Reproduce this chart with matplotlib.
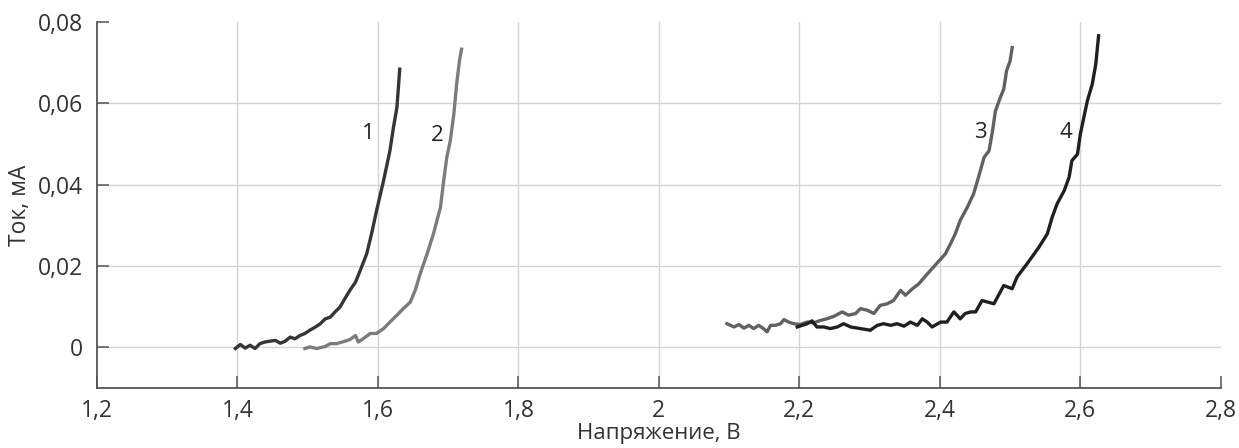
import matplotlib

matplotlib.use("Agg")
import matplotlib.pyplot as plt
from matplotlib.ticker import FuncFormatter

plt.rcParams["font.family"] = ["Open Sans", "DejaVu Sans"]

# кривая 1
U1 = [1.397, 1.404, 1.411, 1.418, 1.425, 1.432, 1.439, 1.446, 1.454, 1.461,
      1.468, 1.475, 1.482, 1.489, 1.496, 1.503, 1.511, 1.518, 1.525, 1.532,
      1.539, 1.546, 1.553, 1.560, 1.568, 1.575, 1.584, 1.591, 1.598, 1.608,
      1.617, 1.622, 1.627, 1.631]
I1 = [-0.0003, 0.0007, -0.0002, 0.0005, -0.0003, 0.0009, 0.0013, 0.0015, 0.0017, 0.0010,
      0.0015, 0.0025, 0.0021, 0.0029, 0.0034, 0.0042, 0.0050, 0.0058, 0.0070, 0.0074,
      0.0087, 0.0099, 0.0120, 0.0140, 0.0160, 0.0190, 0.0230, 0.0280, 0.0336, 0.0410,
      0.0483, 0.0540, 0.0590, 0.0684]

# кривая 2
U2 = [1.496, 1.503, 1.513, 1.525, 1.532, 1.541, 1.553, 1.560, 1.568, 1.572,
      1.579, 1.589, 1.598, 1.608, 1.617, 1.627, 1.636, 1.646, 1.653, 1.660,
      1.670, 1.679, 1.689, 1.693, 1.698, 1.703, 1.708, 1.712, 1.716, 1.719]
I2 = [-0.0003, 0.0001, -0.0003, 0.0002, 0.0009, 0.0009, 0.0015, 0.0019, 0.0029, 0.0013,
      0.0021, 0.0034, 0.0034, 0.0046, 0.0062, 0.0079, 0.0095, 0.0111, 0.0140, 0.0180,
      0.0230, 0.0279, 0.0344, 0.0402, 0.0467, 0.0508, 0.0573, 0.0647, 0.0704, 0.0733]

# кривая 3
U3 = [2.097, 2.107, 2.114, 2.121, 2.128, 2.135, 2.142, 2.149, 2.154, 2.159,
      2.166, 2.173, 2.178, 2.185, 2.192, 2.201, 2.211, 2.220, 2.230, 2.239,
      2.249, 2.261, 2.270, 2.280, 2.287, 2.297, 2.306, 2.315, 2.325, 2.334,
      2.344, 2.351, 2.361, 2.370, 2.382, 2.397, 2.408, 2.415, 2.422, 2.429,
      2.439, 2.448, 2.455, 2.463, 2.470, 2.475, 2.479, 2.486, 2.491, 2.495,
      2.500, 2.503]
I3 = [0.0058, 0.0050, 0.0056, 0.0047, 0.0054, 0.0046, 0.0054, 0.0046, 0.0038, 0.0054,
      0.0054, 0.0058, 0.0068, 0.0062, 0.0058, 0.0056, 0.0062, 0.0060, 0.0066, 0.0070,
      0.0076, 0.0087, 0.0079, 0.0083, 0.0095, 0.0091, 0.0083, 0.0103, 0.0107, 0.0115,
      0.0140, 0.0128, 0.0144, 0.0156, 0.0180, 0.0209, 0.0230, 0.0254, 0.0279, 0.0312,
      0.0344, 0.0377, 0.0418, 0.0467, 0.0483, 0.0532, 0.0580, 0.0614, 0.0635, 0.0680,
      0.0704, 0.0737]

# кривая 4
U4 = [2.197, 2.211, 2.218, 2.225, 2.235, 2.244, 2.254, 2.263, 2.273, 2.287,
      2.301, 2.311, 2.320, 2.330, 2.339, 2.349, 2.358, 2.368, 2.375, 2.382,
      2.389, 2.401, 2.410, 2.420, 2.429, 2.436, 2.444, 2.451, 2.460, 2.477,
      2.491, 2.503, 2.510, 2.524, 2.541, 2.553, 2.560, 2.567, 2.577, 2.584,
      2.588, 2.596, 2.600, 2.605, 2.610, 2.617, 2.622, 2.626]
I4 = [0.0050, 0.0058, 0.0065, 0.0050, 0.0050, 0.0046, 0.0050, 0.0058, 0.0050, 0.0046,
      0.0042, 0.0054, 0.0058, 0.0054, 0.0058, 0.0052, 0.0062, 0.0054, 0.0070, 0.0062,
      0.0050, 0.0062, 0.0062, 0.0087, 0.0070, 0.0083, 0.0087, 0.0087, 0.0115, 0.0107,
      0.0152, 0.0144, 0.0173, 0.0205, 0.0246, 0.0279, 0.0320, 0.0353, 0.0385, 0.0418,
      0.0459, 0.0475, 0.0524, 0.0565, 0.0606, 0.0647, 0.0696, 0.0766]

CURVES = [(U1, I1, "#353535"), (U2, I2, "#7c7c7c"),
          (U3, I3, "#616161"), (U4, I4, "#202020")]

LABELS = ["1", "2", "3", "4"]
LABEL_U = [1.586, 1.685, 2.458, 2.580]
LABEL_I = [0.0525, 0.052, 0.0528, 0.0528]

X_TICKS = [1.2, 1.4, 1.6, 1.8, 2.0, 2.2, 2.4, 2.6, 2.8]
Y_TICKS = [0, 0.02, 0.04, 0.06, 0.08]


def comma_fmt(v, _pos):
    s = f"{v:.2f}".rstrip("0").rstrip(".")
    return s.replace(".", ",")


fig = plt.figure(figsize=(12.39, 4.48), dpi=100)
ax = fig.add_axes([0.0783, 0.134, 0.907, 0.817])

for yv in Y_TICKS[:-1]:
    ax.axhline(yv, color="#d4d4d4", lw=1.0, zorder=1)
for xv in X_TICKS[1:-1]:
    ax.axvline(xv, color="#d4d4d4", lw=1.0, zorder=1)

for u, i, c in CURVES:
    ax.plot(u, i, color=c, lw=2.4, zorder=3)

for t, xu, yi in zip(LABELS, LABEL_U, LABEL_I):
    ax.text(xu, yi, t, fontsize=16, color="#222222", ha="center", va="center")

ax.set_xlim(1.2, 2.8)
ax.set_ylim(-0.01, 0.08)
ax.set_xticks(X_TICKS)
ax.set_yticks(Y_TICKS)
ax.xaxis.set_major_formatter(FuncFormatter(comma_fmt))
ax.yaxis.set_major_formatter(FuncFormatter(comma_fmt))

for side in ("top", "right"):
    ax.spines[side].set_visible(False)
for side in ("left", "bottom"):
    ax.spines[side].set_color("#555555")
    ax.spines[side].set_linewidth(1.3)

ax.tick_params(axis="both", direction="in", length=8.5, width=1.1,
               color="#555555", labelsize=16.5, labelcolor="#333333")
ax.tick_params(axis="x", pad=8)
ax.tick_params(axis="y", pad=10)

ax.set_xlabel("Напряжение, В", fontsize=16, color="#333333", labelpad=0)
ax.set_ylabel("Ток, мА", fontsize=16.5, color="#333333", labelpad=4)

fig.savefig("out.png", dpi=100)
